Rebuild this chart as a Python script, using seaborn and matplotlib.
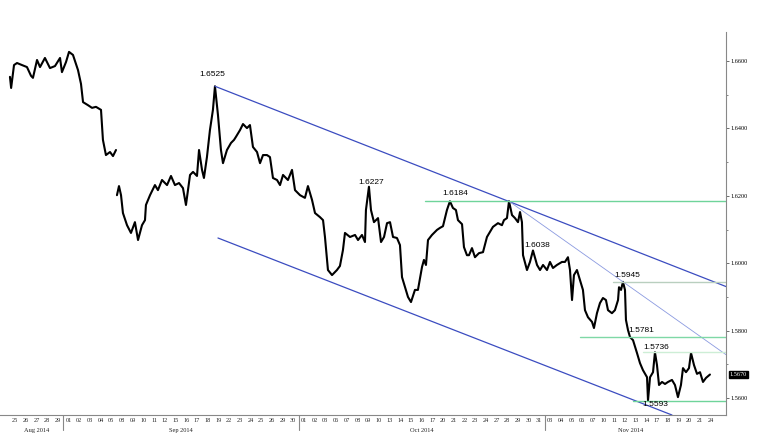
import numpy as np
import pandas as pd
import matplotlib
matplotlib.use("Agg")
import matplotlib.pyplot as plt
import matplotlib.transforms as mtransforms
from matplotlib.ticker import MultipleLocator, FormatStrFormatter
import seaborn as sns

# trading days shown on the x axis (one slot per business day)
trade_days = pd.bdate_range("2014-08-25", "2014-11-24")
day_labels = [d.strftime("%d") for d in trade_days]
month_names = ["Aug 2014", "Sep 2014", "Oct 2014", "Nov 2014"]

# price path, position in trading-day units
# first leg: 25 Aug - 05 Sep
day_pos_1 = [-0.47, -0.36, -0.09, 0.19, 0.65, 1.12, 1.50, 1.68, 2.06, 2.34,
             2.80, 3.27, 3.74, 4.21, 4.39, 4.77, 5.05, 5.42, 5.89, 6.17,
             6.36, 6.82, 7.20, 7.57, 8.04, 8.22, 8.50, 8.88, 9.16, 9.44]
price_1 = [1.6553, 1.6520, 1.6588, 1.6594, 1.6588, 1.6582, 1.6556, 1.6550, 1.6603, 1.6582,
           1.6609, 1.6579, 1.6585, 1.6609, 1.6567, 1.6597, 1.6627, 1.6618, 1.6573, 1.6532,
           1.6478, 1.6469, 1.6461, 1.6464, 1.6455, 1.6366, 1.6321, 1.6330, 1.6318, 1.6336]

# second leg: after the weekend gap, 08 Sep - 24 Nov
day_pos_2 = [9.53, 9.72, 9.91, 10.09, 10.47, 10.84, 11.21, 11.50, 11.87, 12.15,
             12.24, 12.62, 13.08, 13.36, 13.74, 14.21, 14.58, 14.95, 15.33, 15.70,
             15.98, 16.36, 16.64, 17.01, 17.20, 17.48, 17.66, 17.94, 18.22, 18.50,
             18.69, 18.97, 19.25, 19.44, 19.81, 20.19, 20.47, 20.65, 21.03, 21.31,
             21.68, 21.96, 22.24, 22.62, 22.90, 23.18, 23.55, 23.83, 24.11, 24.49,
             24.77, 25.05, 25.51, 25.89, 26.17, 26.64, 27.10, 27.38, 27.76, 28.04,
             28.50, 28.79, 28.97, 29.25, 29.63, 30.09, 30.37, 30.65, 30.84, 31.31,
             31.78, 32.06, 32.43, 32.71, 32.80, 33.08, 33.27, 33.55, 33.93, 34.21,
             34.49, 34.77, 35.05, 35.33, 35.70, 35.98, 36.17, 36.45, 36.73, 37.01,
             37.38, 37.66, 38.04, 38.22, 38.41, 38.60, 38.97, 39.44, 39.72, 40.00,
             40.37, 40.65, 40.93, 41.21, 41.40, 41.78, 41.96, 42.24, 42.43, 42.71,
             42.99, 43.36, 43.74, 44.11, 44.39, 44.67, 45.14, 45.51, 45.70, 45.98,
             46.17, 46.45, 46.73, 47.01, 47.20, 47.38, 47.48, 47.85, 48.13, 48.41,
             48.79, 49.07, 49.35, 49.72, 50.00, 50.28, 50.65, 51.12, 51.40, 51.68,
             51.87, 52.06, 52.24, 52.52, 52.80, 53.08, 53.27, 53.55, 53.93, 54.11,
             54.39, 54.67, 54.95, 55.23, 55.42, 55.79, 56.07, 56.36, 56.45, 56.64,
             56.82, 57.01, 57.10, 57.29, 57.48, 57.76, 58.13, 58.41, 58.69, 59.07,
             59.16, 59.35, 59.63, 59.81, 60.00, 60.19, 60.47, 60.75, 61.03, 61.40,
             61.68, 61.96, 62.24, 62.43, 62.71, 62.99, 63.18, 63.46, 63.74, 64.02,
             64.30, 64.58, 64.95]
price_2 = [1.6202, 1.6229, 1.6202, 1.6149, 1.6113, 1.6090, 1.6122, 1.6069, 1.6113, 1.6128,
           1.6173, 1.6202, 1.6232, 1.6217, 1.6247, 1.6232, 1.6259, 1.6232, 1.6238, 1.6223,
           1.6173, 1.6262, 1.6271, 1.6259, 1.6336, 1.6277, 1.6253, 1.6315, 1.6395, 1.6455,
           1.6525, 1.6440, 1.6336, 1.6297, 1.6336, 1.6357, 1.6366, 1.6375, 1.6395, 1.6413,
           1.6401, 1.6410, 1.6345, 1.6330, 1.6297, 1.6321, 1.6321, 1.6315, 1.6253, 1.6247,
           1.6232, 1.6262, 1.6247, 1.6277, 1.6217, 1.6202, 1.6194, 1.6229, 1.6188, 1.6149,
           1.6137, 1.6128, 1.6078, 1.5980, 1.5965, 1.5980, 1.5992, 1.6039, 1.6090, 1.6078,
           1.6084, 1.6069, 1.6084, 1.6063, 1.6158, 1.6227, 1.6158, 1.6122, 1.6134, 1.6063,
           1.6078, 1.6119, 1.6122, 1.6078, 1.6075, 1.6054, 1.5959, 1.5929, 1.5900, 1.5885,
           1.5921, 1.5921, 1.5989, 1.6010, 1.5995, 1.6069, 1.6084, 1.6099, 1.6105, 1.6110,
           1.6158, 1.6184, 1.6164, 1.6158, 1.6128, 1.6116, 1.6048, 1.6024, 1.6024, 1.6045,
           1.6018, 1.6030, 1.6033, 1.6078, 1.6093, 1.6108, 1.6119, 1.6113, 1.6128, 1.6134,
           1.6184, 1.6143, 1.6134, 1.6122, 1.6152, 1.6122, 1.6024, 1.5980, 1.6004, 1.6038,
           1.5995, 1.5980, 1.5995, 1.5980, 1.6004, 1.5986, 1.5995, 1.6004, 1.6004, 1.6018,
           1.5980, 1.5891, 1.5965, 1.5980, 1.5950, 1.5921, 1.5861, 1.5840, 1.5826, 1.5808,
           1.5852, 1.5882, 1.5897, 1.5891, 1.5861, 1.5852, 1.5861, 1.5891, 1.5929, 1.5921,
           1.5945, 1.5921, 1.5832, 1.5802, 1.5781, 1.5772, 1.5734, 1.5704, 1.5683, 1.5662,
           1.5593, 1.5662, 1.5677, 1.5736, 1.5698, 1.5639, 1.5648, 1.5642, 1.5648, 1.5654,
           1.5639, 1.5603, 1.5639, 1.5689, 1.5677, 1.5689, 1.5734, 1.5698, 1.5672, 1.5677,
           1.5648, 1.5660, 1.5670]
last_price = 1.5670

# trend channel (upper line through 1.6525 and 1.6184 highs, lower parallel)
upper_days = [18.69, 66.45]
upper_prices = [1.6525, 1.5931]
lower_days = [18.97, 61.40]
lower_prices = [1.6075, 1.5550]
# thin line through the 1.6184 and 1.5945 highs
thin_days = [46.17, 66.45]
thin_prices = [1.6184, 1.5729]

# horizontal levels and where they start
level_values = [1.6184, 1.5945, 1.5781, 1.5736, 1.5593]
level_start = [38.3, 55.9, 52.8, 58.7, 57.8]
level_colors = ["#6fd49a", "#b9cfbf", "#7fd8a6", "#cdeed6", "#6fd49a"]

# annotated highs / lows
note_text = ["1.6525", "1.6227", "1.6184", "1.6038", "1.5945", "1.5781", "1.5736", "1.5593"]
note_day = [18.4, 33.3, 41.1, 48.8, 57.2, 58.5, 59.9, 59.8]
note_price = [1.6561, 1.6241, 1.6208, 1.6054, 1.5965, 1.5802, 1.5751, 1.5582]

sns.set_style("white")
plt.rcParams["font.family"] = ["Liberation Sans Narrow", "Liberation Sans", "DejaVu Sans"]

fig = plt.figure(figsize=(7.67, 4.37), dpi=100)
ax = fig.add_axes([0.0, 22 / 437, 726 / 767, (415 - 32) / 437])

leg1 = pd.DataFrame({"day": day_pos_1, "price": price_1})
leg2 = pd.DataFrame({"day": day_pos_2, "price": price_2})
for leg in (leg1, leg2):
    sns.lineplot(data=leg, x="day", y="price", ax=ax, color="black",
                 linewidth=1.5, estimator=None, sort=False)

# channel + thin trendline
ax.plot(upper_days, upper_prices, color="#3b4cc0", linewidth=0.9)
ax.plot(lower_days, lower_prices, color="#3b4cc0", linewidth=0.9)
ax.plot(thin_days, thin_prices, color="#8b9ae0", linewidth=0.6)

for val, start, col in zip(level_values, level_start, level_colors):
    ax.plot([start, 66.45], [val, val], color=col, linewidth=1.0)

for txt, d, p in zip(note_text, note_day, note_price):
    ax.text(d, p, txt, fontsize=6, ha="center", va="center", color="black")

ax.set_xlim(-1.40, 66.45)
ax.set_ylim(1.5550, 1.6686)

# axes styling: only bottom and right lines
for side in ["left", "top"]:
    ax.spines[side].set_visible(False)
for side in ["bottom", "right"]:
    ax.spines[side].set_color("#888888")
    ax.spines[side].set_linewidth(0.8)

ax.yaxis.tick_right()
ax.yaxis.set_major_locator(MultipleLocator(0.02))
ax.yaxis.set_minor_locator(MultipleLocator(0.01))
ax.yaxis.set_major_formatter(FormatStrFormatter("%.4f"))
ax.tick_params(axis="y", which="major", labelsize=4.5, length=2, width=0.6,
               colors="#555555", labelcolor="black", pad=1)
ax.tick_params(axis="y", which="minor", length=1.5, width=0.5, colors="#555555")
for lab in ax.get_yticklabels():
    lab.set_family("Liberation Serif")
ax.set_ylabel("")

ax.set_xticks(np.arange(len(day_labels)))
ax.set_xticklabels(day_labels, family="Liberation Serif")
ax.tick_params(axis="x", labelsize=4.5, length=0, pad=2)
ax.set_xlabel("")

trans = mtransforms.blended_transform_factory(ax.transData, ax.transAxes)
month_of_day = np.array([d.month for d in trade_days])
for i, name in enumerate(month_names):
    idx = np.where(month_of_day == 8 + i)[0]
    ax.text(idx.mean(), -0.033, name, transform=trans, fontsize=4.6,
            family="Liberation Serif", ha="center", va="top")
    if i > 0:
        sep = idx[0] - 0.5
        ax.plot([sep, sep], [0, -0.04], transform=trans, color="#888888",
                linewidth=0.8, clip_on=False)

# current price tag on the right axis
ytrans = mtransforms.blended_transform_factory(ax.transAxes, ax.transData)
ax.text(1.005, last_price, f"{last_price:.4f}", transform=ytrans, fontsize=4.5,
        family="Liberation Serif", color="white", ha="left", va="center",
        bbox=dict(boxstyle="square,pad=0.15", facecolor="black", edgecolor="black"))

fig.savefig("out.png", dpi=100)
